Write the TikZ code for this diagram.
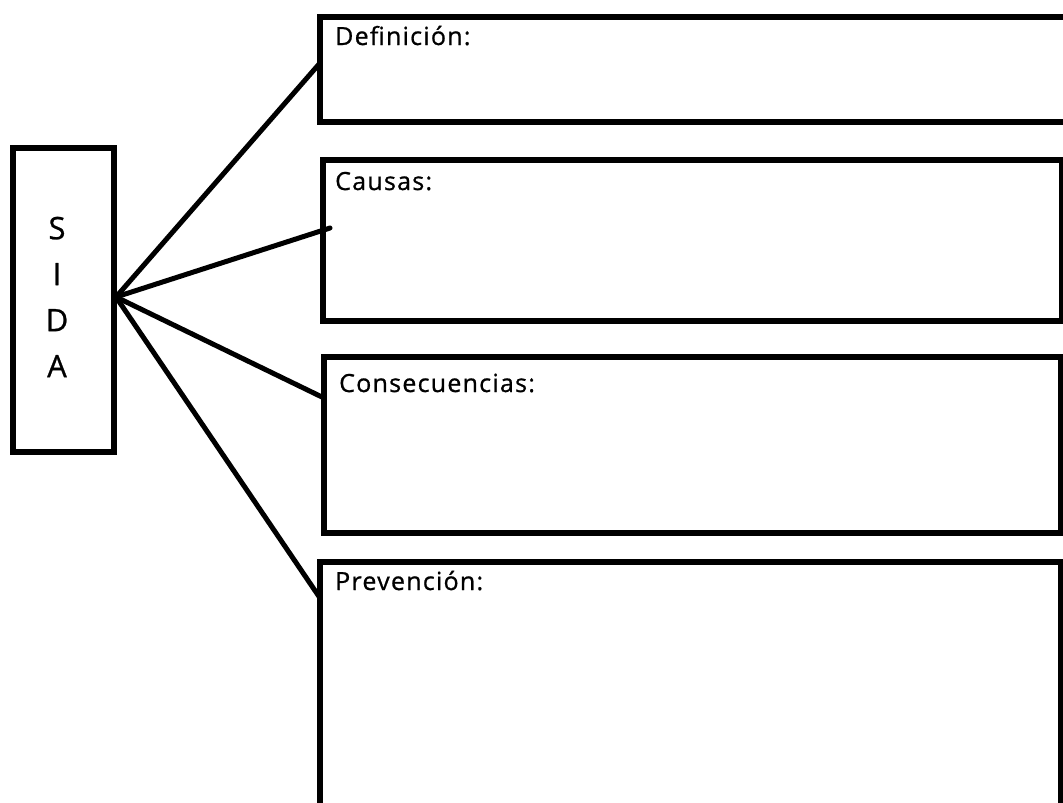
\documentclass[tikz,border=0pt]{standalone}
\usepackage{fontspec}
\setmainfont[FakeBold=0.8]{Open Sans}
\newfontfamily\lblfont[LetterSpace=5,FakeBold=0.8]{Open Sans}
\begin{document}
\begin{tikzpicture}[x=1pt,y=-1pt,
  frame/.style={draw=black,line width=5.5pt,rectangle,inner sep=0pt,outer sep=0pt},
  conn/.style={draw=black,line width=5pt,line cap=round},
  lbl/.style={anchor=base west,inner sep=0pt,font=\lblfont\fontsize{25}{30}\selectfont}]
\clip (0,0) rectangle (1063,803);
\fill[white] (0,0) rectangle (1063,803);
\node[frame,minimum width=101pt,minimum height=304pt] (sida) at (63.5,300) {};
\node[align=center,inner sep=0pt,font=\fontsize{31}{46}\selectfont] (sidatxt) at (57,297) {S\\I\\D\\A};
\node[frame,minimum width=760pt,minimum height=105pt] (def) at (700,69.5) {};
\node[frame,minimum width=739pt,minimum height=161pt] (cau) at (692.5,240.5) {};
\node[frame,minimum width=737pt,minimum height=176pt] (con) at (692.5,445) {};
\node[frame,minimum width=741pt,minimum height=268pt] (pre) at (690.5,696) {};
\node[lbl] (tdef) at ([xshift=15pt,yshift=-28pt]def.north west) {Definición:};
\node[lbl] (tcau) at ([xshift=12pt,yshift=-30pt]cau.north west) {Causas:};
\node[lbl] (tcon) at ([xshift=15pt,yshift=-35pt]con.north west) {Consecuencias:};
\node[lbl] (tpre) at ([xshift=15pt,yshift=-28pt]pre.north west) {Prevención:};
\coordinate (hub) at ([xshift=2pt,yshift=3pt]sida.east);
\draw[conn] (hub) -- ([yshift=6.5pt]def.west);
\draw[conn] (hub) -- ([xshift=7pt,yshift=12.5pt]cau.west);
\draw[conn] (hub) -- ([yshift=47pt]con.west);
\draw[conn] (hub) -- ([yshift=98pt]pre.west);
\end{tikzpicture}
\end{document}
